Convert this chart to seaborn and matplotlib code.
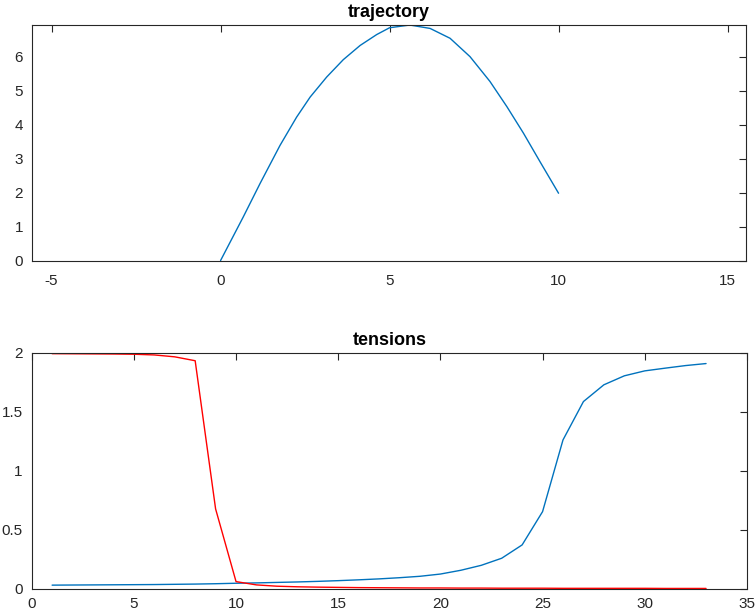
import numpy as np
import pandas as pd
import matplotlib
matplotlib.use("Agg")
import matplotlib.pyplot as plt
import seaborn as sns
from matplotlib.ticker import FormatStrFormatter

# --- data ---
traj_x = [0.0, 0.67, 1.17, 1.76, 2.25, 2.65, 3.14, 3.63, 4.13, 4.62, 5.0,
          5.6, 6.2, 6.79, 7.38, 7.97, 8.47, 8.96, 9.45, 10.0]
traj_y = [0.0, 1.28, 2.27, 3.39, 4.22, 4.81, 5.40, 5.91, 6.33, 6.65, 6.85,
          6.93, 6.83, 6.54, 6.00, 5.27, 4.53, 3.75, 2.91, 1.98]

step = list(range(1, 34))
tension_blue = [0.030, 0.031, 0.032, 0.033, 0.034, 0.035, 0.037, 0.039, 0.042, 0.046,
                0.049, 0.053, 0.057, 0.062, 0.068, 0.075, 0.083, 0.093, 0.105, 0.124,
                0.156, 0.198, 0.258, 0.371, 0.653, 1.261, 1.586, 1.728, 1.804, 1.846,
                1.869, 1.891, 1.908]
tension_red = [1.992, 1.991, 1.990, 1.989, 1.987, 1.981, 1.965, 1.932, 0.676, 0.060,
               0.032, 0.021, 0.016, 0.013, 0.011, 0.009, 0.008, 0.007, 0.006, 0.006,
               0.005, 0.005, 0.004, 0.004, 0.004, 0.003, 0.003, 0.003, 0.003, 0.003,
               0.002, 0.002, 0.002]

top_xticks = [-5, 0, 5, 10, 15]
top_yticks = [0, 1, 2, 3, 4, 5, 6]
bot_xticks = [0, 5, 10, 15, 20, 25, 30, 35]
bot_yticks = [0, 0.5, 1, 1.5, 2]

sns.set_style("white")
plt.rcParams['font.family'] = ['Liberation Sans', 'DejaVu Sans']
plt.rcParams['axes.unicode_minus'] = False

fig = plt.figure(figsize=(7.56, 6.15), dpi=100)
ax1 = fig.add_axes([0.0423, 0.5764, 0.9451, 0.3829])
ax2 = fig.add_axes([0.0419, 0.0428, 0.9461, 0.3837])

blue = "#0072BD"
red = "#FF0000"
tc = "#262626"

df_t = pd.DataFrame({"x": traj_x, "y": traj_y})
sns.lineplot(data=df_t, x="x", y="y", ax=ax1, color=blue, lw=1.0, sort=False)

df_b = pd.DataFrame({"step": step, "blue": tension_blue, "red": tension_red})
sns.lineplot(data=df_b, x="step", y="blue", ax=ax2, color=blue, lw=1.0)
sns.lineplot(data=df_b, x="step", y="red", ax=ax2, color=red, lw=1.0)

ax1.set_xlim(-5.58, 15.56)
ax1.set_ylim(0, 6.93)
ax1.set_xticks(top_xticks)
ax1.set_yticks(top_yticks)
ax2.set_xlim(0, 35)
ax2.set_ylim(0, 2)
ax2.set_xticks(bot_xticks)
ax2.set_yticks(bot_yticks)
ax2.yaxis.set_major_formatter(FormatStrFormatter('%g'))

for ax, title in [(ax1, "trajectory"), (ax2, "tensions")]:
    ax.set_xlabel("")
    ax.set_ylabel("")
    ax.set_title(title, fontsize=13, fontweight="bold", pad=5.5, color="black")
    ax.tick_params(direction="in", top=True, right=True, length=5, width=0.8,
                   colors=tc, labelsize=11)
    ax.tick_params(axis="y", pad=6.5)
    for s in ax.spines.values():
        s.set_visible(True)
        s.set_color(tc)
        s.set_linewidth(0.8)

ax1.tick_params(axis="x", pad=9.5)
ax2.tick_params(axis="x", pad=6)

fig.savefig("out.png", dpi=100)
